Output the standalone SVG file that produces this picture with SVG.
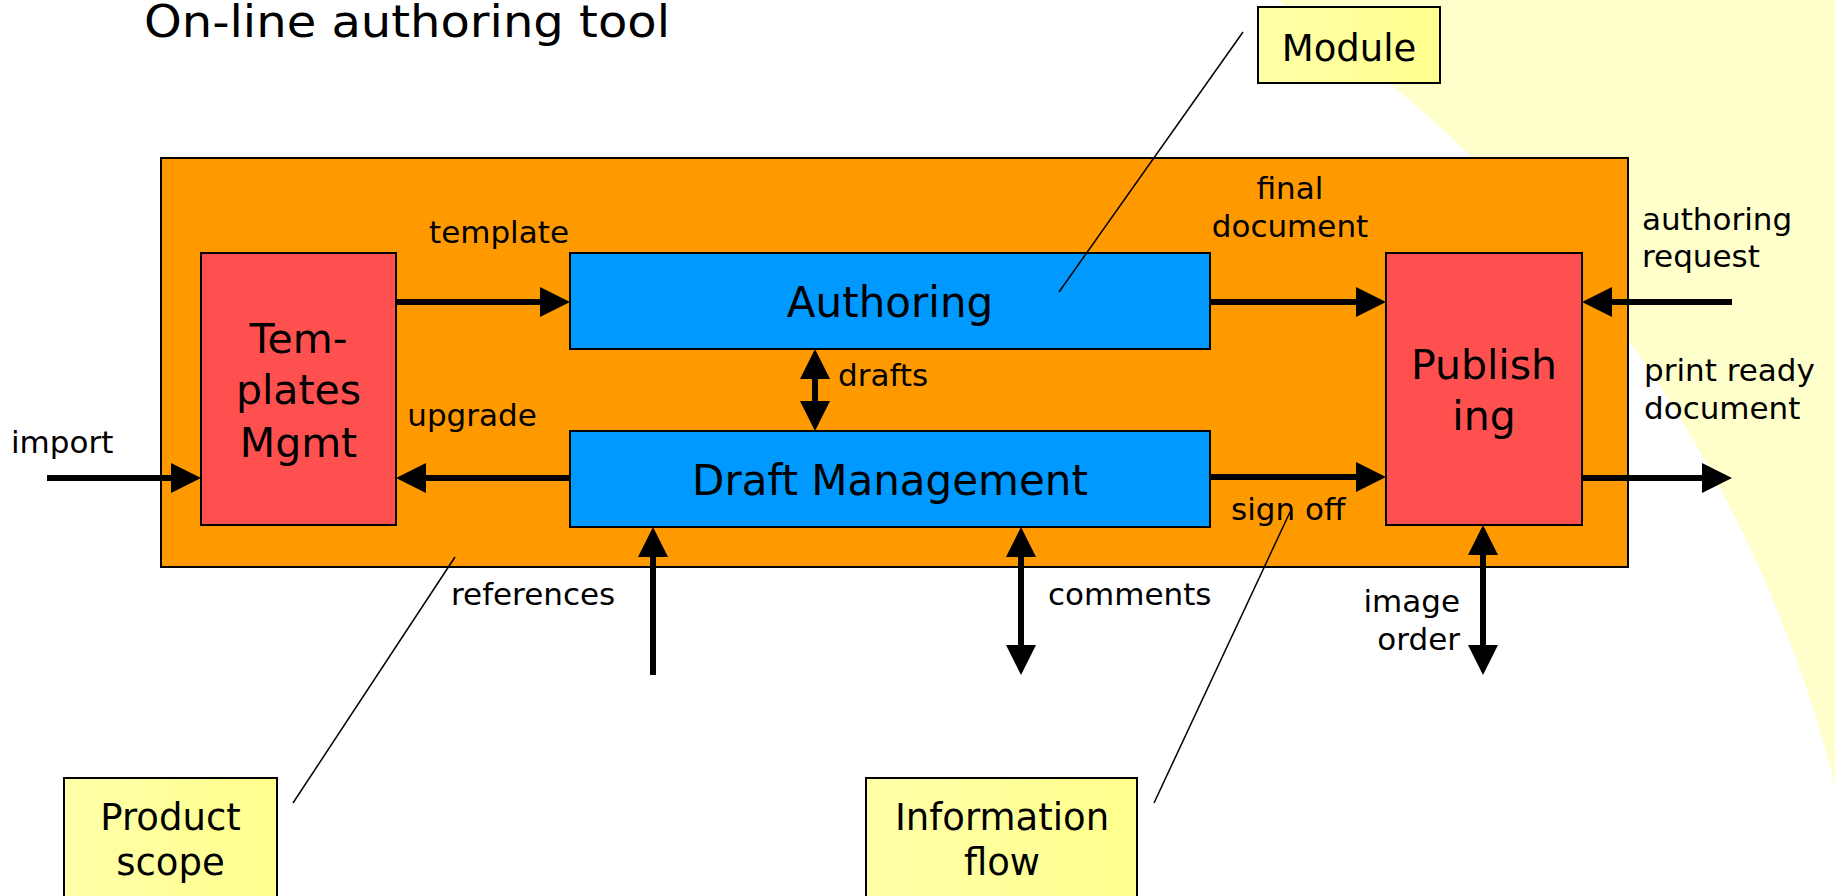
<svg xmlns="http://www.w3.org/2000/svg" width="1835" height="896" viewBox="0 0 1835 896">
  <style>
    text { font-family: "DejaVu Sans", "Liberation Sans", sans-serif; fill: #000; }
    .lbl { font-size: 31px; }
    .big { font-size: 42px; }
    .mid { font-size: 41px; }
    .note { font-size: 37px; }
    .mid-a { text-anchor: middle; }
    .end-a { text-anchor: end; }
    .flow { stroke: #000; stroke-width: 6; fill: none; }
    .one { marker-end: url(#ah); }
    .two { marker-start: url(#ah); marker-end: url(#ah); }
    .callout { stroke: #000; stroke-width: 1.5; fill: none; }
    .box { stroke: #000; stroke-width: 2; }
    .module { fill: #0099FF; }
    .edge { fill: #FF5050; }
    .sticky { fill: url(#stickyFill); stroke: #000; stroke-width: 2; }
  </style>
  <defs>
    <marker id="ah" viewBox="0 0 30 30" markerWidth="30" markerHeight="30" refX="0" refY="15" orient="auto-start-reverse" markerUnits="userSpaceOnUse">
      <path d="M0,0 L30,15 L0,30 Z" fill="#000"/>
    </marker>
    <linearGradient id="stickyFill" x1="0" y1="0" x2="1" y2="0">
      <stop offset="0" stop-color="#FFFFA8"/>
      <stop offset="1" stop-color="#FFFF8E"/>
    </linearGradient>
  </defs>

  <!-- page background with the pale yellow sweep on the right -->
  <rect x="0" y="0" width="1835" height="896" fill="#FFFFFF"/>
  <path d="M1277,0 A1338,1338 0 0,1 1835,785 L1835,0 Z" fill="#FFFFCC"/>

  <text x="144" y="37" font-size="45" textLength="526" lengthAdjust="spacingAndGlyphs">On-line authoring tool</text>

  <!-- product scope frame -->
  <g id="product-scope">
    <rect x="161" y="158" width="1467" height="409" fill="#FF9900" class="box"/>
  </g>

  <g id="templates-mgmt">
    <rect x="201" y="253" width="195" height="272" class="box edge"/>
    <text class="mid mid-a" x="298.5" y="353">Tem-</text>
    <text class="mid mid-a" x="298.5" y="404">plates</text>
    <text class="mid mid-a" x="298.5" y="457">Mgmt</text>
  </g>

  <g id="authoring">
    <rect x="570" y="253" width="640" height="96" class="box module"/>
    <text class="big mid-a" x="890" y="317">Authoring</text>
  </g>

  <g id="draft-management">
    <rect x="570" y="431" width="640" height="96" class="box module"/>
    <text class="big mid-a" x="890" y="495">Draft Management</text>
  </g>

  <g id="publishing">
    <rect x="1386" y="253" width="196" height="272" class="box edge"/>
    <text class="mid mid-a" x="1484" y="379">Publish</text>
    <text class="mid mid-a" x="1484" y="430">ing</text>
  </g>

  <!-- information flows -->
  <g id="connectors">
    <line class="flow one" x1="47" y1="478" x2="171" y2="478"/>
    <line class="flow one" x1="396" y1="302" x2="540" y2="302"/>
    <line class="flow one" x1="570" y1="478" x2="426" y2="478"/>
    <line class="flow two" x1="815" y1="379" x2="815" y2="401"/>
    <line class="flow one" x1="1210" y1="302" x2="1356" y2="302"/>
    <line class="flow one" x1="1732" y1="302" x2="1612" y2="302"/>
    <line class="flow one" x1="1210" y1="477" x2="1356" y2="477"/>
    <line class="flow one" x1="1582" y1="478" x2="1702" y2="478"/>
    <line class="flow one" x1="653" y1="675" x2="653" y2="557"/>
    <line class="flow two" x1="1021" y1="557" x2="1021" y2="645"/>
    <line class="flow two" x1="1483" y1="555" x2="1483" y2="645"/>

    <!-- callout leaders -->
    <line class="callout" x1="1243" y1="32" x2="1059" y2="292"/>
    <line class="callout" x1="293" y1="803" x2="455" y2="557"/>
    <line class="callout" x1="1154" y1="803" x2="1290" y2="512"/>
  </g>

  <g id="flow-labels">
    <text class="lbl mid-a" x="499" y="243">template</text>
    <text class="lbl mid-a" x="1290" y="199">final</text>
    <text class="lbl mid-a" x="1290" y="237">document</text>
    <text class="lbl" x="1642" y="230">authoring</text>
    <text class="lbl" x="1642" y="267">request</text>
    <text class="lbl" x="838" y="386">drafts</text>
    <text class="lbl mid-a" x="472" y="426">upgrade</text>
    <text class="lbl" x="11" y="453">import</text>
    <text class="lbl" x="1644" y="381">print ready</text>
    <text class="lbl" x="1644" y="419">document</text>
    <text class="lbl" x="1231" y="520">sign off</text>
    <text class="lbl" x="451" y="605">references</text>
    <text class="lbl" x="1048" y="605">comments</text>
    <text class="lbl end-a" x="1460" y="612">image</text>
    <text class="lbl end-a" x="1460" y="650">order</text>
  </g>

  <g id="note-module">
    <rect x="1258" y="7" width="182" height="76" class="sticky"/>
    <text class="note mid-a" x="1349" y="61">Module</text>
  </g>

  <g id="note-product-scope">
    <rect x="64" y="778" width="213" height="130" class="sticky"/>
    <text class="note mid-a" x="170.5" y="830">Product</text>
    <text class="note mid-a" x="170.5" y="875">scope</text>
  </g>

  <g id="note-information-flow">
    <rect x="866" y="778" width="271" height="130" class="sticky"/>
    <text class="note mid-a" x="1002" y="830">Information</text>
    <text class="note mid-a" x="1002" y="875">flow</text>
  </g>
</svg>
